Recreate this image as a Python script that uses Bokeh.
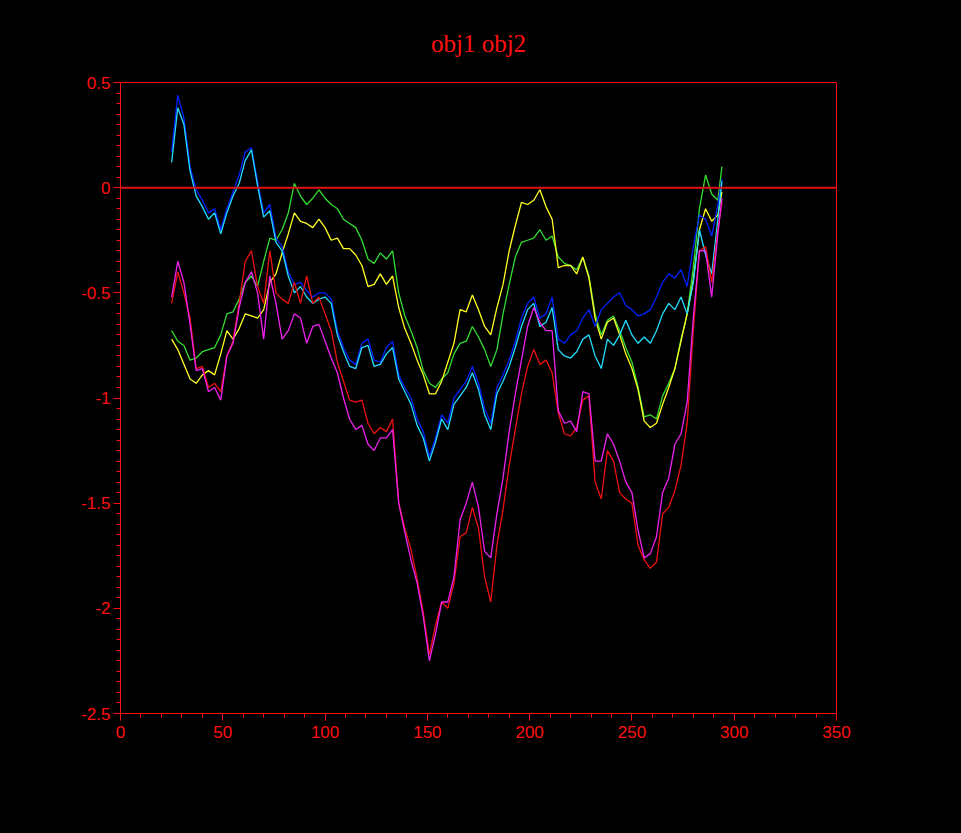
from bokeh.plotting import figure
from bokeh.models import Range1d, Span, SingleIntervalTicker, CustomJSTickFormatter
from bokeh.embed import file_html
from bokeh.resources import INLINE

title_text = "obj1 obj2"

xs = [25, 28, 31, 34, 37, 40, 43, 46, 49, 52,
      55, 58, 61, 64, 67, 70, 73, 76, 79, 82,
      85, 88, 91, 94, 97, 100, 103, 106, 109, 112,
      115, 118, 121, 124, 127, 130, 133, 136, 139, 142,
      145, 148, 151, 154, 157, 160, 163, 166, 169, 172,
      175, 178, 181, 184, 187, 190, 193, 196, 199, 202,
      205, 208, 211, 214, 217, 220, 223, 226, 229, 232,
      235, 238, 241, 244, 247, 250, 253, 256, 259, 262,
      265, 268, 271, 274, 277, 280, 283, 286, 289, 292, 294]

blue = [0.17, 0.44, 0.33, 0.10, -0.01, -0.06, -0.12, -0.10, -0.20, -0.10,
        -0.02, 0.06, 0.17, 0.19, 0.03, -0.12, -0.08, -0.24, -0.28, -0.40,
        -0.46, -0.45, -0.49, -0.52, -0.50, -0.50, -0.53, -0.68, -0.76, -0.82,
        -0.84, -0.74, -0.72, -0.82, -0.83, -0.76, -0.73, -0.89, -0.95, -1.00,
        -1.10, -1.16, -1.28, -1.19, -1.08, -1.12, -1.00, -0.96, -0.92, -0.85,
        -0.93, -1.05, -1.12, -0.95, -0.89, -0.82, -0.73, -0.62, -0.55, -0.52,
        -0.62, -0.60, -0.52, -0.72, -0.74, -0.70, -0.68, -0.62, -0.58, -0.66,
        -0.58, -0.55, -0.52, -0.50, -0.56, -0.58, -0.61, -0.60, -0.58, -0.52,
        -0.45, -0.41, -0.43, -0.39, -0.47, -0.28, -0.13, -0.15, -0.23, -0.08, 0.04]

cyan = [0.12, 0.38, 0.30, 0.08, -0.04, -0.09, -0.15, -0.12, -0.22, -0.12,
        -0.04, 0.02, 0.13, 0.18, 0.01, -0.14, -0.11, -0.26, -0.30, -0.42,
        -0.50, -0.47, -0.52, -0.55, -0.53, -0.52, -0.55, -0.70, -0.78, -0.85,
        -0.86, -0.76, -0.75, -0.85, -0.84, -0.79, -0.76, -0.91, -0.97, -1.03,
        -1.13, -1.19, -1.30, -1.21, -1.10, -1.15, -1.03, -0.99, -0.95, -0.88,
        -0.96, -1.08, -1.15, -0.98, -0.92, -0.85, -0.76, -0.66, -0.58, -0.55,
        -0.66, -0.64, -0.57, -0.77, -0.80, -0.81, -0.78, -0.72, -0.70, -0.80,
        -0.86, -0.72, -0.75, -0.70, -0.63, -0.70, -0.74, -0.71, -0.74, -0.68,
        -0.60, -0.55, -0.58, -0.52, -0.60, -0.45, -0.20, -0.32, -0.41, -0.15, 0.03]

green = [-0.68, -0.73, -0.75, -0.82, -0.81, -0.78, -0.77, -0.76, -0.70, -0.60,
         -0.59, -0.53, -0.45, -0.42, -0.47, -0.35, -0.24, -0.25, -0.20, -0.12,
         0.02, -0.04, -0.08, -0.05, -0.01, -0.05, -0.08, -0.10, -0.15, -0.17,
         -0.19, -0.25, -0.34, -0.36, -0.31, -0.34, -0.30, -0.50, -0.61, -0.68,
         -0.76, -0.87, -0.93, -0.95, -0.91, -0.88, -0.79, -0.74, -0.73, -0.66,
         -0.71, -0.77, -0.85, -0.77, -0.60, -0.46, -0.33, -0.26, -0.25, -0.24,
         -0.20, -0.25, -0.23, -0.33, -0.36, -0.37, -0.39, -0.33, -0.42, -0.60,
         -0.70, -0.63, -0.61, -0.68, -0.76, -0.83, -0.95, -1.09, -1.08, -1.10,
         -0.99, -0.93, -0.86, -0.72, -0.60, -0.38, -0.10, 0.06, -0.03, -0.06, 0.10]

yellow = [-0.72, -0.77, -0.84, -0.91, -0.93, -0.89, -0.87, -0.89, -0.79, -0.68,
          -0.72, -0.67, -0.60, -0.61, -0.62, -0.58, -0.45, -0.41, -0.31, -0.22,
          -0.12, -0.16, -0.17, -0.19, -0.15, -0.19, -0.25, -0.24, -0.29, -0.29,
          -0.32, -0.37, -0.47, -0.46, -0.41, -0.46, -0.42, -0.57, -0.67, -0.74,
          -0.82, -0.89, -0.98, -0.98, -0.92, -0.83, -0.74, -0.58, -0.59, -0.51,
          -0.58, -0.66, -0.70, -0.57, -0.46, -0.30, -0.18, -0.07, -0.08, -0.06,
          -0.01, -0.09, -0.15, -0.38, -0.37, -0.37, -0.41, -0.33, -0.43, -0.62,
          -0.72, -0.64, -0.62, -0.70, -0.79, -0.86, -0.96, -1.11, -1.14, -1.12,
          -1.03, -0.95, -0.86, -0.73, -0.60, -0.44, -0.20, -0.10, -0.16, -0.13, -0.02]

red = [-0.55, -0.40, -0.50, -0.62, -0.86, -0.85, -0.95, -0.93, -0.97, -0.80,
       -0.73, -0.55, -0.35, -0.30, -0.47, -0.55, -0.30, -0.50, -0.53, -0.55,
       -0.45, -0.55, -0.42, -0.55, -0.52, -0.60, -0.68, -0.83, -0.92, -1.01,
       -1.02, -1.01, -1.12, -1.17, -1.14, -1.16, -1.10, -1.50, -1.62, -1.72,
       -1.86, -2.02, -2.22, -2.08, -1.97, -2.00, -1.88, -1.66, -1.64, -1.52,
       -1.62, -1.85, -1.97, -1.70, -1.53, -1.32, -1.15, -0.98, -0.85, -0.77,
       -0.84, -0.82, -0.88, -1.07, -1.17, -1.18, -1.14, -1.01, -0.99, -1.40,
       -1.48, -1.25, -1.30, -1.45, -1.48, -1.50, -1.70, -1.77, -1.81, -1.78,
       -1.55, -1.52, -1.44, -1.32, -1.12, -0.68, -0.30, -0.28, -0.45, -0.20, -0.07]

magenta = [-0.52, -0.35, -0.45, -0.65, -0.87, -0.86, -0.97, -0.95, -1.01, -0.80,
           -0.74, -0.57, -0.45, -0.40, -0.50, -0.72, -0.42, -0.55, -0.72, -0.68,
           -0.60, -0.62, -0.74, -0.66, -0.65, -0.73, -0.81, -0.88, -1.00, -1.10,
           -1.15, -1.13, -1.22, -1.25, -1.19, -1.19, -1.15, -1.50, -1.64, -1.77,
           -1.88, -2.04, -2.25, -2.12, -1.97, -1.97, -1.85, -1.58, -1.50, -1.40,
           -1.52, -1.73, -1.76, -1.55, -1.38, -1.16, -0.98, -0.82, -0.66, -0.57,
           -0.64, -0.68, -0.68, -1.06, -1.12, -1.11, -1.16, -0.97, -0.98, -1.30,
           -1.30, -1.17, -1.22, -1.30, -1.40, -1.45, -1.63, -1.76, -1.74, -1.66,
           -1.45, -1.38, -1.22, -1.17, -1.02, -0.62, -0.30, -0.30, -0.52, -0.22, -0.05]

series = [
    (green, "#33dd33"),
    (yellow, "#ffff22"),
    (blue, "#0022ff"),
    (cyan, "#22ddff"),
    (red, "#ee1111"),
    (magenta, "#ee22ee"),
]

AX = "#ff1010"

p = figure(width=961, height=833, output_backend="svg", toolbar_location=None,
           x_range=Range1d(0, 350), y_range=Range1d(-2.5, 0.5),
           min_border_left=120, min_border_right=125,
           min_border_top=82, min_border_bottom=120,
           background_fill_color="black", border_fill_color="black")

p.title.text = title_text
p.title.text_color = AX
p.title.text_font = "Liberation Serif"
p.title.text_font_size = "25px"
p.title.text_font_style = "normal"
p.title.align = "center"
p.title.standoff = 52

p.outline_line_color = AX
p.outline_line_width = 1
p.outline_line_alpha = 1.0
p.grid.visible = False

for ys, col in series:
    p.line(xs, ys, line_color=col, line_width=1.3)

p.add_layout(Span(location=0, dimension="width", line_color="#dd1111", line_width=2))

p.xaxis.ticker = SingleIntervalTicker(interval=50, num_minor_ticks=5)
p.yaxis.ticker = SingleIntervalTicker(interval=0.5, num_minor_ticks=10)
p.yaxis.formatter = CustomJSTickFormatter(code="return String(Math.round(tick*100)/100);")
p.xaxis.formatter = CustomJSTickFormatter(code="return String(Math.round(tick));")

for ax in (p.xaxis, p.yaxis):
    ax.axis_line_color = AX
    ax.major_tick_line_color = AX
    ax.minor_tick_line_color = AX
    ax.major_label_text_color = AX
    ax.major_label_text_font = "Liberation Sans"
    ax.major_label_text_font_size = "17px"
    ax.major_tick_in = 0
    ax.major_tick_out = 7
    ax.minor_tick_in = 0
    ax.minor_tick_out = 4
p.xaxis.major_label_standoff = 5
p.yaxis.major_label_standoff = 3

html = file_html(p, INLINE)
html = html.replace("</head>", "<style>html,body{margin:0;padding:0;background-color:#000000;overflow:hidden;}</style></head>", 1)
open("out.html", "w").write(html)
